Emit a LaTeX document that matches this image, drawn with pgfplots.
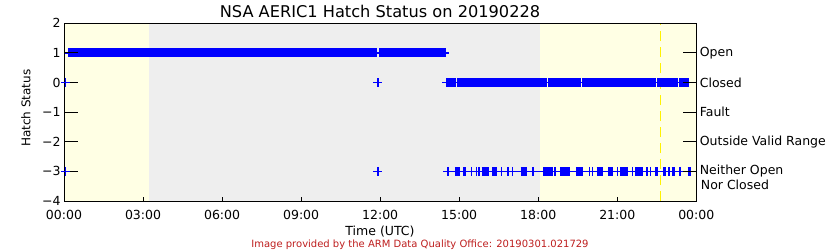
\documentclass[border=0pt]{standalone}
\usepackage{fontspec}
\setmainfont{DejaVu Sans}
\usepackage{pgfplots}
\pgfplotsset{compat=1.18}
\pgfplotsset{every tick/.append style={black, line width=1pt}, every major tick/.append style={black, line width=1pt}}
\definecolor{bgyellow}{RGB}{255,255,228}
\definecolor{bggrey}{RGB}{238,238,238}
\definecolor{footred}{RGB}{190,30,30}
\begin{document}
\begin{tikzpicture}[x=1pt,y=1pt]
\useasboundingbox (0,0) rectangle (840,250);
\fill[white] (0,0) rectangle (840,250);
\begin{axis}[
  at={(64pt,49pt)}, anchor=south west,
  scale only axis, width=632.3pt, height=177.7pt,
  xmin=0, xmax=24, ymin=-4, ymax=2,
  axis on top,
  axis line style={line width=0.9pt, black},
  xtick={0,3,...,24},
  xticklabels={00:00,03:00,06:00,09:00,12:00,15:00,18:00,21:00,00:00},
  ytick={-4,-3,...,2},
  yticklabels={−4,−3,−2,−1,0,1,2},
  xtick pos=bottom, ytick pos=left,
  tick align=inside,
  xtick style={draw=black, line width=1pt, /pgfplots/major tick length=4.3pt},
  ytick style={draw=black, line width=1pt, /pgfplots/major tick length=13.7pt},
  tick label style={font=\fontsize{12.5}{13}\selectfont},
  xticklabel style={anchor=base, yshift=-18.3pt},
  unbounded coords=jump,
]
% backgrounds
\addplot[fill=bgyellow, draw=none] coordinates {(0,-4) (0,2) (3.23,2) (3.23,-4)} -- cycle;
\addplot[fill=bggrey, draw=none] coordinates {(3.23,-4) (3.23,2) (18.08,2) (18.08,-4)} -- cycle;
\addplot[fill=bgyellow, draw=none] coordinates {(18.08,-4) (18.08,2) (24,2) (24,-4)} -- cycle;
% dashed yellow line
\addplot[yellow, line width=1.1pt, dash pattern=on 10pt off 6pt] coordinates {(22.65,-4) (22.65,2)};
% Open (1)
\addplot[blue, line width=1.3pt] coordinates {(0.02,1) (14.62,1)};
\addplot[blue, line width=9pt] coordinates {(0.15,1) (11.88,1) (11.9,nan) (11.97,1) (14.50,1)};
% Closed (0)
\addplot[blue, line width=1.3pt] coordinates {(14.35,0) (23.9,0)};
\addplot[blue, line width=9pt] coordinates {
(14.50,0) (14.86,0) (14.88,nan)
(14.91,0) (18.32,0) (18.34,nan)
(18.37,0) (19.61,0) (19.63,nan)
(19.66,0) (22.46,0) (22.48,nan)
(22.51,0) (23.31,0) (23.33,nan)
(23.36,0) (23.74,0)};
% Neither open nor closed (-3)
\addplot[blue, line width=1.3pt] coordinates {(14.39,-3) (24,-3)};
\addplot[blue, line width=9.3pt] coordinates {
(14.84,-3) (15.03,-3) (15.1,nan)
(15.15,-3) (15.26,-3) (15.3,nan)
(15.85,-3) (16.13,-3) (16.2,nan)
(16.25,-3) (16.42,-3) (16.5,nan)
(17.33,-3) (17.56,-3) (17.6,nan)
(18.19,-3) (18.55,-3) (18.6,nan)
(18.82,-3) (19.20,-3) (19.3,nan)
(19.43,-3) (19.71,-3) (19.8,nan)
(20.22,-3) (20.44,-3) (20.5,nan)
(20.69,-3) (20.82,-3) (20.9,nan)
(21.10,-3) (21.42,-3) (21.5,nan)
(21.67,-3) (21.98,-3) (22.0,nan)
(22.09,-3) (22.17,-3) (22.2,nan)
(22.43,-3) (22.55,-3) (22.6,nan)
(22.74,-3) (22.85,-3) (22.9,nan)
(23.06,-3) (23.19,-3) (23.3,nan)
(23.67,-3) (23.79,-3)};
% isolated points
\addplot[blue, only marks, mark=+, mark size=4.5pt, mark options={line width=1.5pt}] coordinates {
(0.06,0) (11.91,0) (0.06,-3) (11.91,-3)
(14.58,-3) (15.47,-3) (15.66,-3) (15.76,-3) (16.61,-3) (16.86,-3) (17.03,-3)
(17.81,-3) (18.63,-3) (19.94,-3) (20.06,-3) (20.66,-3) (21.00,-3) (21.58,-3)
(22.27,-3) (22.97,-3) (23.38,-3)};
\end{axis}
\begin{axis}[
  at={(64pt,49pt)}, anchor=south west,
  scale only axis, width=632.3pt, height=177.7pt,
  xmin=0, xmax=24, ymin=-4, ymax=2,
  axis y line*=right, hide x axis,
  axis line style={line width=0.9pt, black},
  tick align=inside,
  ytick={-3,-2,-1,0,1},
  yticklabels={Neither Open,Outside Valid Range,Fault,Closed,Open},
  ytick style={draw=black, line width=1pt, /pgfplots/major tick length=13pt},
  tick label style={font=\fontsize{12.5}{13}\selectfont},
]
\end{axis}
\node[anchor=base west, inner sep=0pt, font=\fontsize{12.5}{13}\selectfont] at (700.7,61) {Nor Closed};
\node[anchor=base, inner sep=0pt, font=\fontsize{16.2}{18}\selectfont] at (380,232.7) {NSA AERIC1 Hatch Status on 20190228};
\node[anchor=base, inner sep=0pt, font=\fontsize{12.5}{13}\selectfont] at (380,15) {Time (UTC)};
\node[rotate=90, inner sep=0pt, font=\fontsize{12}{13}\selectfont] at (26,141.7) {Hatch Status};
\node[anchor=base, inner sep=0pt, text=footred, font=\fontsize{10}{11}\selectfont] at (420,2.7) {Image provided by the ARM Data Quality Office: 20190301.021729};
\end{tikzpicture}
\end{document}
